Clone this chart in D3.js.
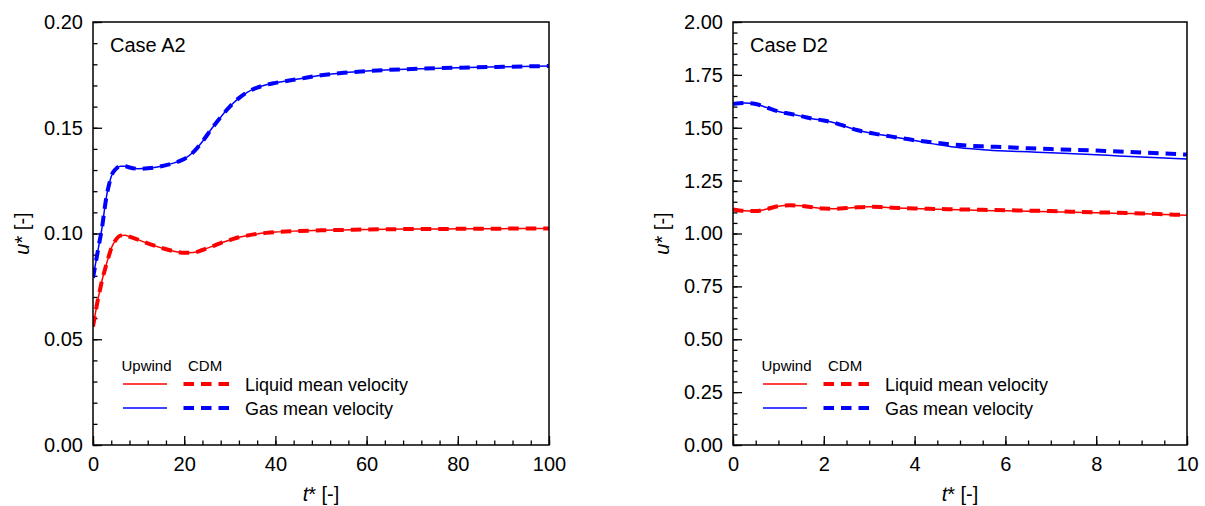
<!DOCTYPE html>
<html>
<head>
<meta charset="utf-8">
<script src="https://cdn.jsdelivr.net/npm/d3@7"></script>
<style>
  html, body { margin: 0; padding: 0; background: #fff; }
  svg { display: block; font-family: "Liberation Sans", Arial, sans-serif; }
</style>
</head>
<body>
<svg id="chart" width="1205" height="506"></svg>
<script>
// ---- Case A2: dimensionless time and mean velocities ----
const tA = [0, 0.5, 1, 1.5, 2, 2.5, 3, 3.5, 4, 5, 6, 7, 8, 10, 12, 15, 18, 20, 22, 24, 26, 28, 30,
            32, 34, 36, 38, 40, 45, 50, 55, 60, 70, 80, 90, 100];
const liqUpwindA = [0.056, 0.062, 0.068, 0.073, 0.078, 0.082, 0.086, 0.0895, 0.093, 0.097, 0.099, 0.0992,
                    0.0985, 0.097, 0.0953, 0.0932, 0.0915, 0.0909, 0.091, 0.0922, 0.0938, 0.0955, 0.0969,
                    0.0982, 0.0991, 0.0998, 0.1003, 0.1007, 0.1012, 0.1015, 0.1017, 0.1019, 0.1021,
                    0.1022, 0.1023, 0.1024];
const liqCdmA = [0.056, 0.062, 0.068, 0.073, 0.078, 0.082, 0.086, 0.0895, 0.093, 0.097, 0.099, 0.0992,
                 0.0985, 0.097, 0.0953, 0.0932, 0.0915, 0.0909, 0.091, 0.0922, 0.0938, 0.0955, 0.0969,
                 0.0982, 0.0991, 0.0998, 0.1003, 0.1007, 0.1012, 0.1015, 0.1017, 0.1019, 0.1021,
                 0.1022, 0.1023, 0.1024];
const gasUpwindA = [0.079, 0.085, 0.091, 0.097, 0.103, 0.111, 0.118, 0.123, 0.127, 0.1305, 0.1318, 0.1318,
                    0.1312, 0.1306, 0.1308, 0.1318, 0.1335, 0.1352, 0.1385, 0.1435, 0.1495, 0.155, 0.16,
                    0.164, 0.167, 0.169, 0.1703, 0.1712, 0.173, 0.1748, 0.176, 0.1768, 0.1778, 0.1784,
                    0.1788, 0.1792];
const gasCdmA = [0.079, 0.085, 0.091, 0.097, 0.103, 0.111, 0.118, 0.123, 0.127, 0.1305, 0.1318, 0.1318,
                 0.1312, 0.1306, 0.1308, 0.1318, 0.1335, 0.1352, 0.1385, 0.1435, 0.1495, 0.155, 0.16,
                 0.164, 0.167, 0.169, 0.1703, 0.1712, 0.173, 0.1748, 0.176, 0.1768, 0.1778, 0.1784,
                 0.1788, 0.1792];
const xTicksA = [0, 20, 40, 60, 80, 100];
const yTicksA = [0.00, 0.05, 0.10, 0.15, 0.20];

// ---- Case D2 ----
const tD = [0, 0.25, 0.5, 0.75, 1, 1.25, 1.5, 1.75, 2, 2.25, 2.5, 2.75, 3, 3.25, 3.5, 4, 4.5, 5,
            5.5, 6, 6.5, 7, 7.5, 8, 8.5, 9, 9.5, 10];
const liqUpwindD = [1.114, 1.107, 1.106, 1.116, 1.129, 1.133, 1.131, 1.124, 1.118, 1.117, 1.12, 1.124,
                    1.126, 1.125, 1.122, 1.118, 1.115, 1.112, 1.109, 1.107, 1.105, 1.103, 1.1, 1.098,
                    1.095, 1.093, 1.09, 1.086];
const liqCdmD = [1.114, 1.107, 1.106, 1.116, 1.129, 1.133, 1.131, 1.124, 1.118, 1.117, 1.12, 1.124,
                 1.126, 1.125, 1.122, 1.118, 1.116, 1.114, 1.112, 1.11, 1.108, 1.106, 1.103, 1.1,
                 1.098, 1.095, 1.091, 1.087];
const gasUpwindD = [1.612, 1.617, 1.612, 1.595, 1.577, 1.566, 1.555, 1.543, 1.534, 1.522, 1.505, 1.488,
                    1.476, 1.467, 1.458, 1.44, 1.421, 1.405, 1.396, 1.39, 1.386, 1.382, 1.377, 1.372,
                    1.367, 1.362, 1.357, 1.352];
const gasCdmD = [1.612, 1.617, 1.612, 1.595, 1.577, 1.566, 1.555, 1.543, 1.534, 1.522, 1.505, 1.488,
                 1.476, 1.467, 1.458, 1.441, 1.428, 1.418, 1.412, 1.408, 1.403, 1.399, 1.396, 1.392,
                 1.388, 1.383, 1.378, 1.373];
const xTicksD = [0, 2, 4, 6, 8, 10];
const yTicksD = [0.00, 0.25, 0.50, 0.75, 1.00, 1.25, 1.50, 1.75, 2.00];

const legendHeaders = ["Upwind", "CDM"];
const legendLabels = ["Liquid mean velocity", "Gas mean velocity"];

const RED = "#ff0000", BLUE = "#0000ff";
const DASH = "10.5,7";

const svg = d3.select("#chart");

function drawPanel(cfg) {
  const { left, right, top, bottom } = cfg;
  const x = d3.scaleLinear().domain(cfg.xDomain).range([left, right]);
  const y = d3.scaleLinear().domain(cfg.yDomain).range([bottom, top]);
  const g = svg.append("g");

  // minor ticks
  g.append("g").attr("transform", `translate(0,${bottom})`)
    .call(d3.axisBottom(x).tickValues(cfg.xMinor).tickSize(-4.5).tickSizeOuter(0).tickFormat(""))
    .call(a => a.select(".domain").remove())
    .call(a => a.selectAll("line").attr("stroke", "#000").attr("stroke-width", 1.3));
  g.append("g").attr("transform", `translate(${left},0)`)
    .call(d3.axisLeft(y).tickValues(cfg.yMinor).tickSize(-4.5).tickSizeOuter(0).tickFormat(""))
    .call(a => a.select(".domain").remove())
    .call(a => a.selectAll("line").attr("stroke", "#000").attr("stroke-width", 1.3));

  // major ticks with labels
  g.append("g").attr("transform", `translate(0,${bottom})`)
    .call(d3.axisBottom(x).tickValues(cfg.xTicks).tickSize(-9).tickSizeOuter(0).tickPadding(12)
      .tickFormat(d3.format("d")))
    .call(a => a.select(".domain").remove())
    .call(a => a.selectAll("line").attr("stroke", "#000").attr("stroke-width", 1.3))
    .call(a => a.selectAll("text").attr("font-size", 20).attr("fill", "#000")
      .attr("font-family", "'Liberation Sans', Arial, sans-serif"));
  g.append("g").attr("transform", `translate(${left},0)`)
    .call(d3.axisLeft(y).tickValues(cfg.yTicks).tickSize(-9).tickSizeOuter(0).tickPadding(10)
      .tickFormat(d3.format(".2f")))
    .call(a => a.select(".domain").remove())
    .call(a => a.selectAll("line").attr("stroke", "#000").attr("stroke-width", 1.3))
    .call(a => a.selectAll("text").attr("font-size", 20).attr("fill", "#000")
      .attr("font-family", "'Liberation Sans', Arial, sans-serif"));

  // curves
  const line = d3.line().x(d => x(d[0])).y(d => y(d[1])).curve(d3.curveMonotoneX);
  const series = [
    { v: cfg.liqUpwind, color: RED, dashed: false },
    { v: cfg.gasUpwind, color: BLUE, dashed: false },
    { v: cfg.liqCdm, color: RED, dashed: true },
    { v: cfg.gasCdm, color: BLUE, dashed: true }
  ];
  const clipId = "clip" + cfg.id;
  svg.append("clipPath").attr("id", clipId).append("rect")
    .attr("x", left).attr("y", top).attr("width", right - left).attr("height", bottom - top);
  const curves = g.append("g").attr("clip-path", `url(#${clipId})`);
  series.forEach(s => {
    curves.append("path")
      .datum(cfg.t.map((t, i) => [t, s.v[i]]))
      .attr("fill", "none")
      .attr("stroke", s.color)
      .attr("stroke-width", s.dashed ? 4 : 1.5)
      .attr("stroke-dasharray", s.dashed ? DASH : null)
      .attr("d", line);
  });

  // frame
  g.append("rect").attr("x", left).attr("y", top)
    .attr("width", right - left).attr("height", bottom - top)
    .attr("fill", "none").attr("stroke", "#000").attr("stroke-width", 1.5);

  // case label
  g.append("text").attr("x", left + 17).attr("y", top + 30)
    .attr("font-size", 20).attr("fill", "#000").text(cfg.caseLabel);

  // axis titles
  const xt = g.append("text").attr("x", (left + right) / 2).attr("y", 501)
    .attr("text-anchor", "middle").attr("font-size", 20).attr("fill", "#000");
  xt.append("tspan").attr("font-style", "italic").text("t");
  xt.append("tspan").text("* [-]");
  const yt = g.append("text")
    .attr("transform", `translate(${left - 64},${(top + bottom) / 2}) rotate(-90)`)
    .attr("text-anchor", "middle").attr("font-size", 20).attr("fill", "#000");
  yt.append("tspan").attr("font-style", "italic").text("u");
  yt.append("tspan").text("* [-]");

  // legend
  const lg = g.append("g").attr("transform", `translate(${left},0)`);
  lg.append("text").attr("x", 28.5).attr("y", 371).attr("font-size", 15).attr("fill", "#000")
    .text(legendHeaders[0]);
  lg.append("text").attr("x", 95).attr("y", 371).attr("font-size", 15).attr("fill", "#000")
    .text(legendHeaders[1]);
  [[RED, 384], [BLUE, 408]].forEach(([c, yy], i) => {
    lg.append("line").attr("x1", 30).attr("x2", 74).attr("y1", yy).attr("y2", yy)
      .attr("stroke", c).attr("stroke-width", 1.5);
    lg.append("line").attr("x1", 90.5).attr("x2", 136.5).attr("y1", yy).attr("y2", yy)
      .attr("stroke", c).attr("stroke-width", 4).attr("stroke-dasharray", DASH);
    lg.append("text").attr("x", 152).attr("y", yy + 6.5).attr("font-size", 18).attr("fill", "#000")
      .text(legendLabels[i]);
  });
}

drawPanel({
  id: "A", left: 93, right: 549, top: 22, bottom: 445,
  xDomain: [0, 100], yDomain: [0, 0.2],
  xTicks: xTicksA, yTicks: yTicksA,
  xMinor: d3.range(0, 100.001, 4), yMinor: d3.range(0, 0.2001, 0.01),
  t: tA, liqUpwind: liqUpwindA, liqCdm: liqCdmA, gasUpwind: gasUpwindA, gasCdm: gasCdmA,
  caseLabel: "Case A2"
});

drawPanel({
  id: "D", left: 733, right: 1187, top: 22, bottom: 445,
  xDomain: [0, 10], yDomain: [0, 2],
  xTicks: xTicksD, yTicks: yTicksD,
  xMinor: d3.range(0, 10.001, 0.5), yMinor: d3.range(0, 2.0001, 0.05),
  t: tD, liqUpwind: liqUpwindD, liqCdm: liqCdmD, gasUpwind: gasUpwindD, gasCdm: gasCdmD,
  caseLabel: "Case D2"
});
</script>
</body>
</html>
